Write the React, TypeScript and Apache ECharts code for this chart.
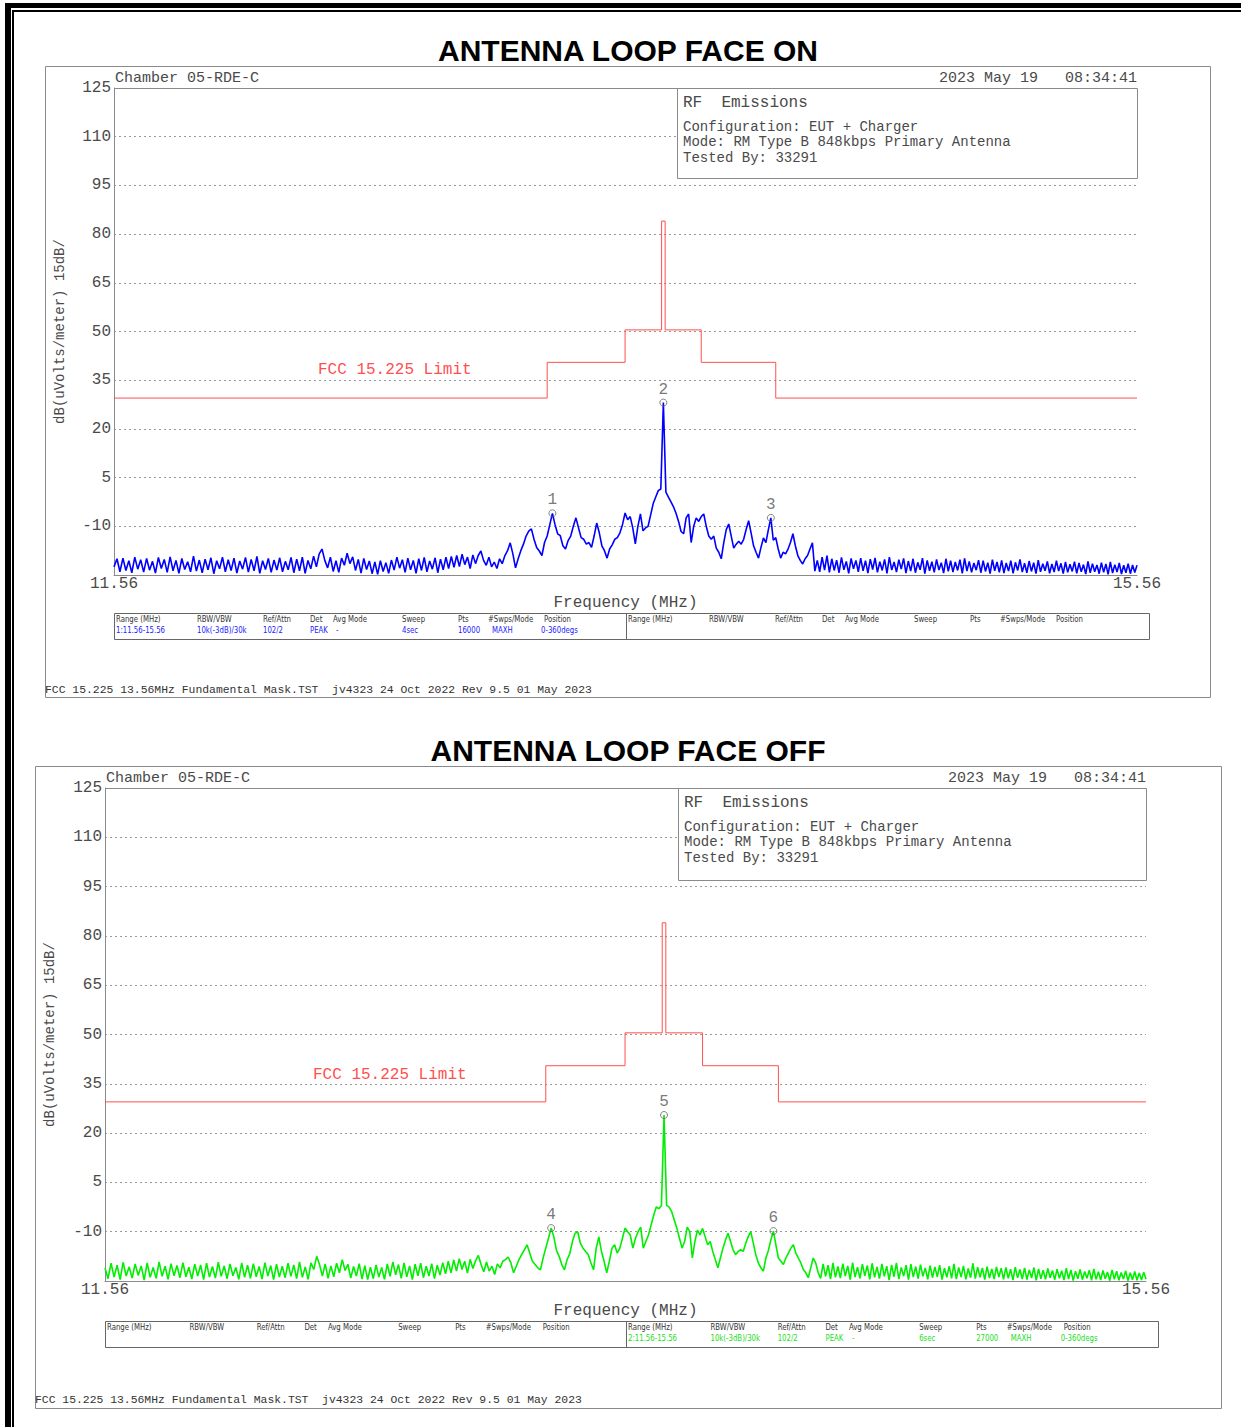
import React, { useEffect, useRef } from "react";
import * as echarts from "echarts";

// ---------------- DATA ----------------
const SWEEP_START_MHZ = 11.56;
const SWEEP_STOP_MHZ = 15.56;
const SWEEP_STEP_MHZ = 0.01;

const Y_MIN = -25;
const Y_MAX = 125;
const Y_STEP = 15;

// FCC 15.225 limit mask (band edges in MHz, level in dBuV/m)
const LIMIT_EDGES = [11.56, 13.11, 13.41, 13.553, 13.567, 13.71, 14.01, 15.56];
const LIMIT_LEVELS = [29.5, 40.5, 50.5, 84.0, 50.5, 40.5, 29.5];

// Trace, one value per 0.01 MHz from 11.56 MHz
const TRACE_FACE_ON = [
  -22.5,-20.0,-24.0,-19.8,-23.6,-20.6,-24.3,-19.5,-23.2,-20.3,
  -24.1,-19.9,-23.5,-20.8,-24.4,-19.6,-23.0,-20.2,-24.2,-19.4,
  -23.7,-20.5,-24.5,-19.9,-23.3,-20.9,-24.0,-19.2,-23.8,-20.4,
  -24.3,-20.1,-23.4,-19.7,-24.6,-20.6,-23.1,-19.5,-24.0,-20.3,
  -23.6,-19.8,-24.4,-20.7,-23.2,-19.6,-24.1,-20.2,-23.7,-19.3,
  -24.5,-20.6,-23.3,-19.9,-24.2,-20.4,-23.5,-19.7,-24.0,-20.8,
  -23.4,-19.6,-24.3,-20.1,-23.7,-19.5,-24.5,-20.5,-23.1,-19.2,
  -22.5,-18.5,-17.0,-20.5,-22.8,-19.5,-23.9,-20.6,-24.2,-19.8,
  -22.0,-18.3,-21.5,-19.4,-23.6,-20.2,-24.4,-19.9,-23.3,-20.7,
  -24.6,-21.0,-24.8,-20.6,-23.9,-21.2,-24.5,-20.4,-23.5,-19.5,
  -22.9,-20.3,-24.2,-19.8,-23.4,-20.5,-24.5,-20.0,-23.6,-19.6,
  -24.0,-20.7,-23.2,-19.7,-24.3,-20.1,-23.4,-19.5,-23.0,-19.3,
  -22.6,-19.0,-22.4,-18.6,-21.8,-19.5,-23.0,-18.8,-21.5,-19.0,
  -17.6,-20.5,-22.0,-19.5,-22.5,-21.0,-23.0,-20.0,-21.5,-19.0,
  -17.5,-15.1,-18.5,-22.8,-20.0,-17.5,-15.5,-13.0,-11.5,-10.8,
  -14.0,-16.5,-17.6,-19.0,-15.0,-13.0,-9.5,-6.0,-9.5,-12.3,
  -12.9,-16.0,-17.0,-14.4,-13.0,-10.0,-7.4,-10.5,-13.5,-14.0,
  -15.5,-15.0,-16.5,-13.0,-9.0,-12.0,-16.0,-17.5,-19.8,-17.0,
  -15.7,-14.0,-13.5,-12.0,-9.5,-5.9,-8.0,-7.0,-10.5,-15.4,
  -10.0,-6.2,-11.4,-10.5,-10.0,-6.5,-3.0,-1.0,1.0,1.5,
  28.1,0.5,-1.0,-2.5,-4.0,-6.0,-8.5,-11.6,-12.3,-7.4,
  -6.2,-15.0,-10.0,-7.4,-8.5,-7.0,-6.2,-10.0,-13.0,-14.0,
  -13.0,-16.7,-18.0,-20.0,-15.0,-11.0,-9.3,-13.0,-16.7,-15.5,
  -14.6,-15.5,-14.0,-11.0,-8.3,-12.0,-16.0,-18.0,-19.8,-16.5,
  -13.6,-15.0,-11.0,-7.4,-14.3,-13.5,-17.0,-19.8,-18.0,-18.5,
  -17.0,-15.0,-12.3,-16.0,-19.0,-20.5,-21.6,-20.0,-19.0,-17.0,
  -15.1,-23.8,-20.5,-24.0,-19.5,-23.5,-19.0,-24.2,-20.0,-23.6,
  -20.4,-24.3,-19.6,-23.4,-20.8,-24.5,-19.9,-23.1,-20.5,-24.0,
  -19.8,-23.7,-20.6,-24.4,-20.1,-23.3,-19.7,-24.2,-20.9,-23.6,
  -20.2,-24.5,-19.5,-23.5,-21.0,-24.1,-20.3,-23.2,-19.9,-24.4,
  -20.7,-23.8,-20.0,-24.3,-21.1,-23.4,-19.8,-24.6,-20.5,-23.7,
  -20.9,-24.2,-20.2,-23.5,-21.2,-24.4,-20.0,-23.9,-20.6,-24.1,
  -21.0,-23.6,-20.3,-24.5,-19.9,-23.8,-20.8,-24.2,-21.3,-23.5,
  -20.4,-24.3,-20.6,-23.9,-21.2,-24.6,-20.3,-23.7,-21.0,-24.2,
  -20.5,-24.4,-21.3,-23.8,-20.6,-24.5,-21.1,-23.6,-20.2,-24.1,
  -21.4,-24.3,-20.7,-23.9,-21.2,-24.6,-20.4,-24.0,-21.5,-23.7,
  -20.8,-24.5,-21.6,-24.1,-20.6,-23.8,-21.4,-24.6,-21.0,-24.2,
  -21.7,-23.9,-20.9,-24.5,-21.3,-24.0,-21.8,-24.7,-20.8,-24.3,
  -21.5,-24.0,-21.9,-24.6,-21.2,-24.2,-21.6,-24.8,-21.0,-24.4,
  -21.8,-24.1,-21.3,-24.7,-22.0,-24.3,-21.5,-24.6,-21.9,-24.2,
  -22.0,
];

const TRACE_FACE_OFF = [
  -21.0,-24.3,-19.6,-23.8,-20.2,-24.6,-19.3,-23.5,-20.7,-24.1,
  -19.8,-23.3,-20.4,-24.7,-19.5,-23.9,-20.9,-24.2,-19.2,-23.6,
  -20.5,-24.5,-19.7,-23.4,-20.3,-24.0,-19.4,-23.7,-20.8,-24.4,
  -19.9,-23.5,-20.1,-24.6,-19.6,-23.8,-20.6,-24.1,-19.3,-23.6,
  -20.4,-24.3,-19.8,-23.4,-20.9,-24.5,-19.5,-23.9,-20.2,-24.2,
  -19.7,-23.7,-20.6,-24.4,-19.4,-23.5,-20.3,-24.6,-19.9,-23.8,
  -20.5,-24.0,-19.6,-23.6,-20.1,-24.3,-19.2,-23.9,-20.7,-24.5,
  -19.5,-21.5,-17.5,-20.0,-23.5,-19.8,-24.2,-20.4,-23.7,-19.6,
  -22.5,-18.5,-21.8,-19.9,-24.1,-20.6,-23.5,-19.7,-24.4,-20.3,
  -24.6,-20.8,-24.3,-20.1,-23.8,-20.9,-24.5,-19.8,-23.6,-19.2,
  -23.1,-20.0,-24.2,-19.5,-23.7,-20.4,-24.6,-19.9,-23.4,-19.6,
  -24.0,-20.5,-23.5,-19.7,-24.3,-20.2,-23.2,-19.4,-22.8,-19.0,
  -22.5,-18.6,-22.0,-18.2,-21.5,-19.0,-22.6,-18.4,-21.2,-18.8,
  -17.2,-20.0,-22.2,-19.2,-22.0,-20.5,-23.0,-19.8,-21.0,-19.0,
  -18.5,-17.7,-19.5,-22.5,-20.5,-18.5,-17.0,-15.5,-14.0,-16.5,
  -19.0,-20.0,-21.0,-21.6,-18.0,-15.0,-12.0,-8.9,-11.5,-15.7,
  -17.5,-20.0,-21.6,-18.5,-16.7,-13.0,-10.5,-10.0,-13.5,-15.0,
  -16.0,-17.0,-19.5,-21.6,-15.0,-11.6,-16.0,-19.0,-22.5,-19.0,
  -15.0,-14.0,-16.5,-15.0,-12.0,-8.9,-10.0,-11.0,-15.0,-12.0,
  -10.0,-8.6,-15.0,-13.0,-11.0,-8.0,-5.0,-2.5,-3.0,-2.0,
  25.5,-2.0,-2.5,-4.0,-6.5,-9.0,-12.0,-15.0,-13.0,-8.6,
  -10.0,-18.0,-13.0,-9.5,-11.0,-9.0,-11.5,-14.0,-13.0,-16.0,
  -18.5,-21.0,-18.0,-15.0,-12.5,-10.5,-13.0,-15.5,-17.0,-16.0,
  -15.5,-16.0,-13.5,-11.5,-10.0,-13.5,-17.0,-19.5,-21.0,-22.0,
  -18.0,-15.7,-12.5,-9.8,-14.0,-18.0,-19.0,-20.0,-18.0,-16.5,
  -15.0,-14.0,-16.5,-18.0,-19.5,-21.5,-22.5,-24.0,-21.0,-18.0,
  -19.5,-22.5,-24.2,-19.8,-23.6,-20.2,-24.4,-19.5,-23.9,-20.6,
  -24.1,-19.7,-23.5,-20.4,-24.6,-19.4,-23.8,-20.8,-24.2,-19.9,
  -23.4,-20.3,-24.5,-19.6,-23.9,-20.7,-24.3,-19.8,-23.6,-20.5,
  -24.7,-20.1,-23.7,-19.5,-24.4,-20.9,-23.5,-20.2,-24.6,-19.9,
  -23.8,-20.6,-24.3,-20.0,-23.6,-21.0,-24.5,-20.3,-24.0,-20.7,
  -23.7,-20.2,-24.6,-21.1,-23.9,-20.5,-24.2,-19.8,-24.4,-20.9,
  -23.8,-20.4,-24.5,-21.2,-24.0,-19.6,-24.3,-20.8,-23.9,-21.0,
  -24.6,-20.6,-24.1,-21.3,-24.4,-20.7,-23.8,-21.1,-24.5,-20.9,
  -24.2,-21.4,-24.7,-20.8,-24.0,-21.5,-24.4,-21.0,-24.6,-21.6,
  -24.1,-20.9,-24.8,-21.3,-24.3,-21.7,-24.5,-21.2,-24.0,-21.8,
  -24.6,-21.4,-24.2,-21.9,-24.7,-21.1,-24.4,-21.6,-24.9,-22.0,
  -24.3,-21.5,-24.6,-22.1,-24.2,-21.7,-24.8,-21.3,-24.5,-22.2,
  -24.7,-21.8,-24.3,-22.3,-24.9,-21.6,-24.5,-22.0,-24.8,-22.4,
  -24.4,-21.9,-24.9,-22.5,-24.6,-22.1,-24.8,-22.6,-24.7,-22.3,
  -24.5,
];

const MARKER_NAMES_ON = ["1", "2", "3"];
const MARKER_FREQ_ON = [13.13, 13.56, 13.99];
const MARKER_LEVEL_ON = [-6.0, 28.1, -7.4];

const MARKER_NAMES_OFF = ["4", "5", "6"];
const MARKER_FREQ_OFF = [13.13, 13.56, 13.99];
const MARKER_LEVEL_OFF = [-8.9, 25.5, -9.8];

const TITLES = ["ANTENNA LOOP FACE ON", "ANTENNA LOOP FACE OFF"];
const HEADER_LEFT = "Chamber 05-RDE-C";
const HEADER_RIGHT = "2023 May 19   08:34:41";
const INFO_LINES = [
  "RF  Emissions",
  "Configuration: EUT + Charger",
  "Mode: RM Type B 848kbps Primary Antenna",
  "Tested By: 33291",
];
const Y_AXIS_NAME = "dB(uVolts/meter) 15dB/";
const X_AXIS_NAME = "Frequency (MHz)";
const LIMIT_LABEL = "FCC 15.225 Limit";
const FOOTER = "FCC 15.225 13.56MHz Fundamental Mask.TST  jv4323 24 Oct 2022 Rev 9.5 01 May 2023";
const TABLE_HEADERS = ["Range (MHz)", "RBW/VBW", "Ref/Attn", "Det", "Avg Mode", "Sweep", "Pts", "#Swps/Mode", "Position"];
const TABLE_VALUES_ON = ["1:11.56-15.56", "10k(-3dB)/30k", "102/2", "PEAK", "-", "4sec", "16000", "MAXH", "0-360degs"];
const TABLE_VALUES_OFF = ["2:11.56-15.56", "10k(-3dB)/30k", "102/2", "PEAK", "-", "6sec", "27000", "MAXH", "0-360degs"];

// ---------------- LAYOUT / STYLE ----------------
const MONO = '"Liberation Mono", "DejaVu Sans Mono", monospace';
const NARROW = '"Liberation Sans Narrow", "DejaVu Sans Condensed", "Liberation Sans", sans-serif';
const SANS = '"Liberation Sans", Arial, sans-serif';
const TEXT_GRAY = "#4a4a4a";
const FRAME_GRAY = "#8a8a8a";
const LIMIT_RED = "#ff4f4f";

const HEADER_OFFSETS = [0, 81, 147, 194, 217, 286, 342, 372, 428];
const VALUE_OFFSETS = [0, 81, 147, 194, 220, 286, 342, 376, 425];

const PANELS = [
  {
    title: TITLES[0], titleY: 50,
    box: [45, 66, 1210, 697],
    grid: { left: 114, top: 88, width: 1023, height: 487 },
    info: [677, 88, 1137, 178],
    yNameGap: 47, xNameGap: 20,
    limitLabel: [318, 370],
    table: [114, 613, 1149, 639], tableSplit: 626, tableScale: 1, valuesSide: 0,
    tableColor: "#1a1aff",
    footer: [45, 690],
    trace: TRACE_FACE_ON, traceColor: "#0000ff",
    markers: [MARKER_NAMES_ON, MARKER_FREQ_ON, MARKER_LEVEL_ON],
    values: TABLE_VALUES_ON,
  },
  {
    title: TITLES[1], titleY: 750,
    box: [35, 766, 1221, 1408],
    grid: { left: 105, top: 788, width: 1041, height: 493 },
    info: [678, 788, 1146, 880],
    yNameGap: 48, xNameGap: 22,
    limitLabel: [313, 1075],
    table: [105, 1321, 1158, 1347], tableSplit: 626, tableScale: 1.018, valuesSide: 1,
    tableColor: "#22dd22",
    footer: [35, 1400],
    trace: TRACE_FACE_OFF, traceColor: "#00ee00",
    markers: [MARKER_NAMES_OFF, MARKER_FREQ_OFF, MARKER_LEVEL_OFF],
    values: TABLE_VALUES_OFF,
  },
];

function limitData() {
  const out: number[][] = [];
  LIMIT_LEVELS.forEach((lvl, i) => {
    out.push([LIMIT_EDGES[i], lvl]);
    out.push([LIMIT_EDGES[i + 1], lvl]);
  });
  return out;
}

function traceData(values: number[]) {
  return values.map((v, i) => [Number((SWEEP_START_MHZ + i * SWEEP_STEP_MHZ).toFixed(2)), v]);
}

function txt(x: number, y: number, text: string, size: number, family: string, fill: string, align = "left", extra: any = {}, scaleX = 1) {
  return {
    type: "text",
    x, y, z: 20, scaleX,
    silent: true,
    style: { text, fontSize: size, fontFamily: family, fill, align, verticalAlign: "middle", ...extra },
  };
}

function panelGraphics(p: any) {
  const g: any[] = [];
  const [bx0, by0, bx1, by1] = p.box;
  const gl = p.grid.left, gt = p.grid.top, gr = gl + p.grid.width;
  g.push(txt(628, p.titleY, p.title, 30, SANS, "#000", "center", { fontWeight: "bold" }));
  g.push({ type: "rect", z: 1, silent: true, shape: { x: bx0 + 0.5, y: by0 + 0.5, width: bx1 - bx0, height: by1 - by0 }, style: { fill: "none", stroke: FRAME_GRAY, lineWidth: 1 } });
  // top border of plot
  g.push({ type: "line", z: 15, silent: true, shape: { x1: gl, y1: gt + 0.5, x2: gr, y2: gt + 0.5 }, style: { stroke: FRAME_GRAY, lineWidth: 1 } });
  g.push(txt(gl + 1, gt - 10, HEADER_LEFT, 15, MONO, TEXT_GRAY));
  g.push(txt(gr, gt - 10, HEADER_RIGHT, 15, MONO, TEXT_GRAY, "right"));
  // info box
  const [ix0, iy0, ix1, iy1] = p.info;
  g.push({ type: "rect", z: 16, silent: true, shape: { x: ix0 + 0.5, y: iy0 + 0.5, width: ix1 - ix0, height: iy1 - iy0 }, style: { fill: "#fff", stroke: FRAME_GRAY, lineWidth: 1 } });
  const infoDy = [15, 39, 54, 70];
  INFO_LINES.forEach((t, i) => g.push(txt(ix0 + 6, iy0 + infoDy[i], t, i === 0 ? 16 : 14, MONO, TEXT_GRAY)));
  // limit label
  g.push(txt(p.limitLabel[0], p.limitLabel[1], LIMIT_LABEL, 16, MONO, LIMIT_RED));
  // table
  const [tx0, ty0, tx1, ty1] = p.table;
  g.push({ type: "rect", z: 16, silent: true, shape: { x: tx0 + 0.5, y: ty0 + 0.5, width: tx1 - tx0, height: ty1 - ty0 }, style: { fill: "#fff", stroke: "#666", lineWidth: 1 } });
  g.push({ type: "line", z: 17, silent: true, shape: { x1: p.tableSplit + 0.5, y1: ty0, x2: p.tableSplit + 0.5, y2: ty1 }, style: { stroke: "#666", lineWidth: 1 } });
  const starts = [tx0 + 2, p.tableSplit + 2];
  starts.forEach((sx, side) => {
    TABLE_HEADERS.forEach((h, i) => g.push(txt(sx + HEADER_OFFSETS[i] * p.tableScale, ty0 + 6, h, 9, NARROW, "#333", "left", {}, 0.86)));
    if (side === p.valuesSide) {
      p.values.forEach((v: string, i: number) => g.push(txt(sx + VALUE_OFFSETS[i] * p.tableScale, ty0 + 17, v, 9, NARROW, p.tableColor, "left", {}, 0.86)));
    }
  });
  g.push(txt(p.footer[0], p.footer[1], FOOTER, 11.4, MONO, "#333"));
  return g;
}

function buildOption() {
  const grids = PANELS.map((p) => ({ ...p.grid, containLabel: false }));
  const xAxes = PANELS.map((p, i) => ({
    type: "log",
    gridIndex: i,
    min: SWEEP_START_MHZ,
    max: SWEEP_STOP_MHZ,
    logBase: 10,
    name: X_AXIS_NAME,
    nameLocation: "middle",
    nameGap: p.xNameGap,
    nameTextStyle: { fontFamily: MONO, fontSize: 16, color: TEXT_GRAY },
    axisLine: { show: true, onZero: false, lineStyle: { color: FRAME_GRAY, width: 1 } },
    axisTick: { show: false },
    splitLine: { show: false },
    minorTick: { show: false },
    axisLabel: {
      show: true,
      margin: 1,
      showMinLabel: true,
      showMaxLabel: true,
      fontFamily: MONO,
      fontSize: 16,
      color: TEXT_GRAY,
      formatter: (v: number) => {
        const near = (a: number) => Math.abs(v - a) < 0.005;
        return near(SWEEP_START_MHZ) || near(SWEEP_STOP_MHZ) ? v.toFixed(2) : "";
      },
    },
  }));
  const yAxes = PANELS.map((p, i) => ({
    type: "value",
    gridIndex: i,
    min: Y_MIN,
    max: Y_MAX,
    interval: Y_STEP,
    name: Y_AXIS_NAME,
    nameLocation: "middle",
    nameRotate: 90,
    nameGap: p.yNameGap,
    nameTextStyle: { fontFamily: MONO, fontSize: 14, color: TEXT_GRAY },
    axisLine: { show: true, onZero: false, lineStyle: { color: FRAME_GRAY, width: 1 } },
    axisTick: { show: false },
    axisLabel: {
      margin: 3,
      fontFamily: MONO,
      fontSize: 16,
      color: TEXT_GRAY,
      formatter: (v: number) => (v === Y_MIN ? "" : String(v)),
    },
    splitLine: { show: true, lineStyle: { color: "#999", type: [2, 3], width: 1 } },
  }));
  const series: any[] = [];
  PANELS.forEach((p, i) => {
    series.push({
      type: "line", name: LIMIT_LABEL, xAxisIndex: i, yAxisIndex: i,
      data: limitData(), symbol: "none", silent: true, z: 3,
      lineStyle: { color: LIMIT_RED, width: 1 },
    });
    series.push({
      type: "line", name: "Trace " + (i + 1), xAxisIndex: i, yAxisIndex: i,
      data: traceData(p.trace), symbol: "none", silent: true, z: 4,
      lineStyle: { color: p.traceColor, width: 1.6 },
    });
    const [names, freqs, levels] = p.markers as any[];
    series.push({
      type: "scatter", name: "Markers " + (i + 1), xAxisIndex: i, yAxisIndex: i,
      data: names.map((n: string, k: number) => ({ name: n, value: [freqs[k], levels[k]] })),
      symbol: "circle", symbolSize: 7, z: 6, silent: true,
      itemStyle: { color: "rgba(255,255,255,0)", borderColor: "#666", borderWidth: 1 },
      label: { show: true, position: "top", distance: 1, formatter: "{b}", fontFamily: MONO, fontSize: 16, color: "#555" },
    });
  });

  const frame = [
    { type: "rect", z: 30, silent: true, shape: { x: 5, y: 3, width: 1236, height: 5 }, style: { fill: "#000" } },
    { type: "rect", z: 30, silent: true, shape: { x: 5, y: 3, width: 6, height: 1424 }, style: { fill: "#000" } },
    { type: "rect", z: 30, silent: true, shape: { x: 12, y: 10, width: 1229, height: 2 }, style: { fill: "#000" } },
    { type: "rect", z: 30, silent: true, shape: { x: 12, y: 10, width: 2, height: 1417 }, style: { fill: "#000" } },
  ];

  return {
    animation: false,
    backgroundColor: "#fff",
    grid: grids,
    xAxis: xAxes,
    yAxis: yAxes,
    series,
    graphic: { elements: [...frame, ...PANELS.flatMap((p) => panelGraphics(p))] },
  };
}

export default function App() {
  const ref = useRef<HTMLDivElement>(null);
  useEffect(() => {
    if (!ref.current) return;
    const chart = echarts.init(ref.current, null, { renderer: "svg", width: 1241, height: 1427 });
    chart.setOption(buildOption() as any);
    return () => chart.dispose();
  }, []);
  return <div ref={ref} style={{ position: "absolute", left: 0, top: 0, width: 1241, height: 1427 }} />;
}
